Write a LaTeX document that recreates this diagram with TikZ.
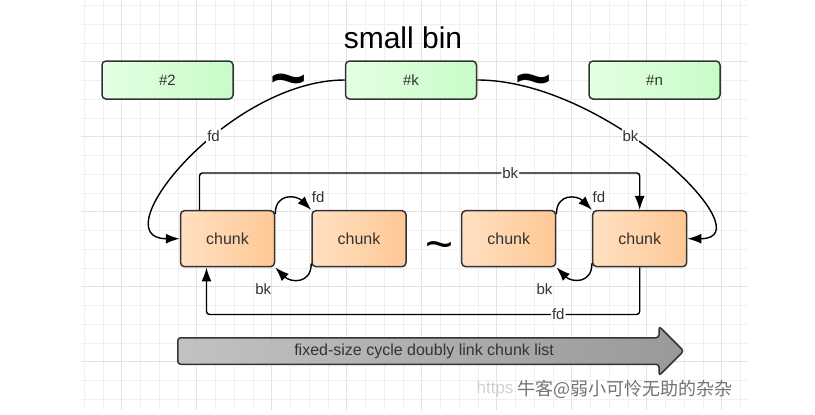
\documentclass[tikz,border=0pt]{standalone}
\usepackage{xcolor}
\usepackage{fontspec}
\setmainfont{Liberation Sans}
\newfontfamily\cjkfont{Noto Sans CJK SC}
\usepackage{tikz}
\usetikzlibrary{arrows.meta}
\usetikzlibrary{shapes.arrows}
\tikzset{>={Latex[length=14pt,width=10pt]}}
\definecolor{gridminor}{HTML}{F0F0F0}
\definecolor{gridmajor}{HTML}{E3E3E3}
\definecolor{binlight}{HTML}{E4FFE4}
\definecolor{bindark}{HTML}{C8FCC8}
\definecolor{chunklight}{HTML}{FFE0C2}
\definecolor{chunkdark}{HTML}{FFC895}
\definecolor{edge}{HTML}{333333}
\tikzstyle{binbox} = [draw=edge, line width=1.5pt, rounded corners=4pt, left color=binlight, right color=bindark, minimum width=131pt, minimum height=38pt, font=\fontsize{15}{18}\selectfont, text=edge]
\tikzstyle{chunkbox} = [draw=edge, line width=1.5pt, rounded corners=4pt, left color=chunklight, right color=chunkdark, minimum width=94pt, minimum height=56pt, font=\fontsize{16}{19}\selectfont, text=edge]
\tikzstyle{ptr} = [->, line width=1.4pt]
\tikzstyle{lbl} = [inner sep=1pt, font=\fontsize{15}{18}\selectfont, text=edge]
\tikzstyle{onlbl} = [lbl, fill=white]
\tikzstyle{wave} = [inner sep=0pt, text=black]

\begin{document}
\begin{tikzpicture}[x=1pt, y=1pt]
\useasboundingbox (0,0) rectangle (815,-415);
% grid
\begin{scope}
\clip (81,0) rectangle (748,-410);
\foreach \i in {0,...,35} \draw[gridminor, line width=0.8pt] ({84.2+18.75*\i},0) -- ++(0,-410);
\foreach \j in {0,...,21} \draw[gridminor, line width=0.8pt] (81,{-5.45-18.75*\j}) -- ++(667,0);
\foreach \i in {2,6,...,34} \draw[gridmajor, line width=0.8pt] ({84.2+18.75*\i},0) -- ++(0,-410);
\foreach \j in {3,7,...,19} \draw[gridmajor, line width=0.8pt] (81,{-5.45-18.75*\j}) -- ++(667,0);
\end{scope}

\node [font=\fontsize{30}{34}\selectfont] (title) at (403,-38) {small bin};
\node [binbox] (B2) at (167.5,-80) {\#2};
\node [binbox] (Bk) at (411,-80) {\#k};
\node [binbox] (Bn) at (654.5,-80) {\#n};
\node [wave, font=\bfseries\fontsize{62}{66}\selectfont] (W1) at (289,-87) {\textasciitilde};
\node [wave, font=\bfseries\fontsize{62}{66}\selectfont] (W2) at (534,-87) {\textasciitilde};

\node [chunkbox] (C1) at (227.5,-238.7) {chunk};
\node [chunkbox] (C2) at (359,-238.7) {chunk};
\node [chunkbox] (C3) at (508.7,-238.7) {chunk};
\node [chunkbox] (C4) at (639.7,-238.7) {chunk};
\node [wave, font=\fontsize{48}{52}\selectfont] (W3) at (440,-251) {\textasciitilde};

% bin <-> list
\draw [ptr] (Bk.west) .. controls +(-116,0) and +(-80,0) .. node[onlbl, pos=0.4] {fd} (C1.west);
\draw [ptr] (Bk.east) .. controls +(130,0) and +(80,0) .. node[onlbl, pos=0.4] {bk} (C4.east);

% head <-> tail
\draw [ptr, rounded corners=3pt] ([xshift=-28pt]C1.north) -- ++(0,37) -| node[onlbl, pos=0.353] {bk} (C4.north);
\draw [ptr, rounded corners=3pt] (C4.south) -- ++(0,-47) -| node[onlbl, pos=0.094] {fd} ([xshift=-21pt]C1.south);

% neighbours
\draw [ptr] ([yshift=-4pt]C1.north east) to[out=90, in=135, looseness=1.5] node[lbl, at end, anchor=south, xshift=7pt, yshift=6pt] {fd} (C2.north west);
\draw [ptr] ([yshift=4pt]C2.south west) to[out=270, in=-45, looseness=1.5] node[lbl, at end, anchor=north, xshift=-12pt, yshift=-14pt] {bk} (C1.south east);
\draw [ptr] ([yshift=-4pt]C3.north east) to[out=90, in=135, looseness=1.5] node[lbl, at end, anchor=south, xshift=7pt, yshift=6pt] {fd} (C4.north west);
\draw [ptr] ([yshift=4pt]C4.south west) to[out=270, in=-45, looseness=1.5] node[lbl, at end, anchor=north, xshift=-12pt, yshift=-14pt] {bk} (C3.south east);

\node [single arrow, draw=edge, line width=1.5pt, rounded corners=3pt, left color=black!24, right color=black!40, minimum height=506pt, single arrow head extend=11.5pt, inner ysep=5.5pt, text height=11pt, text depth=3pt, font=\fontsize{16}{19}\selectfont, text=edge, anchor=tail] (list) at (177,-351) {fixed-size cycle doubly link chunk list};

\node [anchor=east, text=black!18, font=\fontsize{17}{20}\selectfont] (url) at (517,-389) {https};
\node [anchor=west, text=black!55, font=\cjkfont\fontsize{18}{20}\selectfont] (mark) at (514,-389) {牛客@弱小可怜无助的杂杂};
\end{tikzpicture}
\end{document}
